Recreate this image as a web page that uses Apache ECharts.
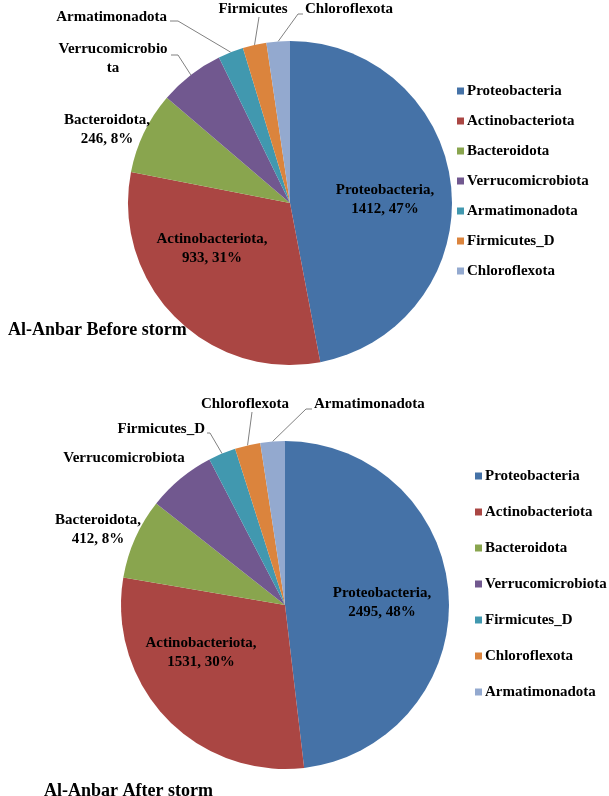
<!DOCTYPE html>
<html>
<head>
<meta charset="utf-8">
<script src="https://cdn.jsdelivr.net/npm/echarts@6/dist/echarts.min.js"></script>
<style>
  html, body { margin: 0; padding: 0; background: #fff; }
  #graficoAntes, #graficoDepois { position: absolute; left: 0; width: 609px; height: 398px; }
  #graficoAntes { top: 0; }
  #graficoDepois { top: 398px; }
</style>
</head>
<body>
<div id="graficoAntes"></div>
<div id="graficoDepois"></div>
<script>
// dados
const nomesAntes = ['Proteobacteria', 'Actinobacteriota', 'Bacteroidota', 'Verrucomicrobiota', 'Armatimonadota', 'Firmicutes_D', 'Chloroflexota'];
const valoresAntes = [1412, 933, 246, 196, 76, 71, 70];
const textosAntes = [null, null, null, 'Verrucomicrobio\nta', 'Armatimonadota', 'Firmicutes', 'Chloroflexota'];

const nomesDepois = ['Proteobacteria', 'Actinobacteriota', 'Bacteroidota', 'Verrucomicrobiota', 'Firmicutes_D', 'Chloroflexota', 'Armatimonadota'];
const valoresDepois = [2495, 1531, 412, 350, 140, 130, 125];
const textosDepois = [null, null, null, 'Verrucomicrobiota', 'Firmicutes_D', 'Chloroflexota', 'Armatimonadota'];

const colorscheme = ['#4572A7', '#AA4643', '#89A54E', '#71588F', '#4198AF', '#DB843D', '#93A9CF'];
const fonte = '"Liberation Serif", "Times New Roman", serif';

// posição dos rótulos (pixels do gráfico)
const rotulosAntes = [
    { x: 385, y: 200, align: 'center', dentro: true },
    { x: 212, y: 249, align: 'center', dentro: true },
    { x: 107, y: 130, align: 'center' },
    { x: 113, y: 59, align: 'center', linha: [[178, 55], [171, 55]] },
    { x: 167, y: 17, align: 'right', linha: [[178, 21], [170, 21]] },
    { x: 253, y: 9, align: 'center', linha: [[259, 17]] },
    { x: 305, y: 9, align: 'left', linha: [[298, 14], [303, 14]] }
];
const rotulosDepois = [
    { x: 382, y: 205, align: 'center', dentro: true },
    { x: 201, y: 255, align: 'center', dentro: true },
    { x: 98, y: 132, align: 'center' },
    { x: 124, y: 60, align: 'center' },
    { x: 205, y: 31, align: 'right', linha: [[210, 35], [207, 35]] },
    { x: 245, y: 6, align: 'center', linha: [[252, 14]] },
    { x: 314, y: 6, align: 'left', linha: [[306, 11], [312, 11]] }
];

function montarOpcao(nomes, valores, textos, rotulos, titulo, cfg) {
    const dados = nomes.map((n, i) => ({
        name: n,
        value: valores[i],
        label: { position: rotulos[i].dentro ? 'inside' : 'outside' },
        labelLine: { show: !!rotulos[i].linha }
    }));
    return {
        animation: false,
        color: colorscheme,
        title: {
            text: titulo,
            left: cfg.tituloX,
            top: cfg.tituloY,
            textStyle: { fontFamily: fonte, fontSize: 18, fontWeight: 'bold', color: '#000' }
        },
        legend: {
            orient: 'vertical',
            left: cfg.legX,
            top: cfg.legY,
            padding: 0,
            icon: 'rect',
            itemWidth: 7,
            itemHeight: 7,
            itemGap: cfg.legGap,
            data: nomes,
            textStyle: { fontFamily: fonte, fontSize: 15, fontWeight: 'bold', color: '#000', lineHeight: 16, padding: [0, 0, 0, -2] }
        },
        series: [{
            type: 'pie',
            center: cfg.centro,
            radius: cfg.raio,
            startAngle: 90,
            clockwise: true,
            avoidLabelOverlap: false,
            data: dados,
            label: {
                show: true,
                fontFamily: fonte,
                fontSize: 15,
                fontWeight: 'bold',
                color: '#000',
                lineHeight: 19,
                formatter: p => textos[p.dataIndex] ||
                    `${p.name},\n${p.value}, ${Math.round(p.percent)}%`
            },
            labelLine: { lineStyle: { color: '#808080', width: 1 }, length: 10, length2: 5 },
            labelLayout: function (params) {
                const r = rotulos[params.dataIndex];
                const saida = { x: r.x, y: r.y, align: r.align, verticalAlign: 'middle' };
                if (r.linha && params.labelLinePoints) {
                    saida.labelLinePoints = [params.labelLinePoints[0]].concat(r.linha);
                }
                return saida;
            }
        }]
    };
}

const graficoAntes = echarts.init(document.getElementById('graficoAntes'));
const graficoDepois = echarts.init(document.getElementById('graficoDepois'));

graficoAntes.setOption(montarOpcao(nomesAntes, valoresAntes, textosAntes, rotulosAntes,
    'Al-Anbar Before storm',
    { centro: [290, 203], raio: 162, legX: 457, legY: 83, legGap: 14, tituloX: 3, tituloY: 316 }));

graficoDepois.setOption(montarOpcao(nomesDepois, valoresDepois, textosDepois, rotulosDepois,
    'Al-Anbar After storm',
    { centro: [285, 207], raio: 164, legX: 475, legY: 70, legGap: 20, tituloX: 39, tituloY: 379 }));
</script>
</body>
</html>
